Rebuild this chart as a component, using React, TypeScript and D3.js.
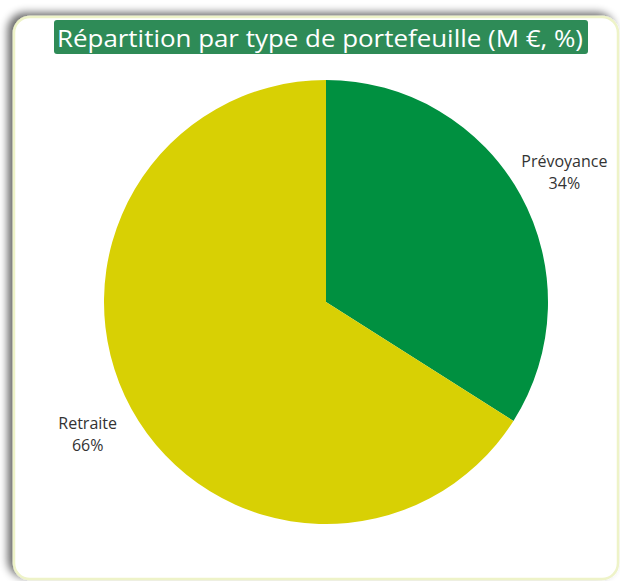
import React from "react";
import * as d3 from "d3";

const categories = ["Prévoyance", "Retraite"];
const values = [34, 66];
const colors = ["#009040", "#d8d004"];
const title = "Répartition par type de portefeuille (M €, %)";

export default function App() {
  const W = 620, H = 581;
  const cx = 326, cy = 302, r = 222, lr = 272;
  const pie = d3.pie<number>().sort(null).value((d) => d)(values);
  const arc = d3.arc<d3.PieArcDatum<number>>().innerRadius(0).outerRadius(r);
  const total = d3.sum(values);
  return (
    <svg width={W} height={H} style={{ position: "absolute", left: 0, top: 0 }}>
      <defs>
        <filter id="sh" x="-10%" y="-10%" width="120%" height="120%">
          <feGaussianBlur in="SourceAlpha" stdDeviation="4" />
          <feOffset dx="-5" dy="-3" result="b" />
          <feComponentTransfer>
            <feFuncA type="linear" slope="0.6" />
          </feComponentTransfer>
          <feMerge>
            <feMergeNode />
            <feMergeNode in="SourceGraphic" />
          </feMerge>
        </filter>
      </defs>
      <rect x={14} y={17} width={604} height={562} rx={16} fill="#fff" stroke="#eef3c8" strokeWidth={2.5} filter="url(#sh)" />
      <rect x={54} y={20} width={534} height={34} rx={3} fill="#2e8b57" />
      <text x={320} y={46.5} textAnchor="middle" fill="#fff" fontFamily="'Open Sans', sans-serif" fontSize={23} textLength={526} lengthAdjust="spacingAndGlyphs">
        {title}
      </text>
      <g transform={`translate(${cx},${cy})`}>
        {pie.map((p, i) => (
          <path key={i} d={arc(p) as string} fill={colors[i]} />
        ))}
        {pie.map((p, i) => {
          const a = (p.startAngle + p.endAngle) / 2;
          const x = lr * Math.sin(a);
          const y = -lr * Math.cos(a);
          return (
            <text key={i} x={x} y={y} textAnchor="middle" fontFamily="'Open Sans', sans-serif" fontSize={16} fill="#333">
              <tspan x={x} dy={-4}>{categories[i]}</tspan>
              <tspan x={x} dy={22}>{Math.round((values[i] / total) * 100)}%</tspan>
            </text>
          );
        })}
      </g>
    </svg>
  );
}
